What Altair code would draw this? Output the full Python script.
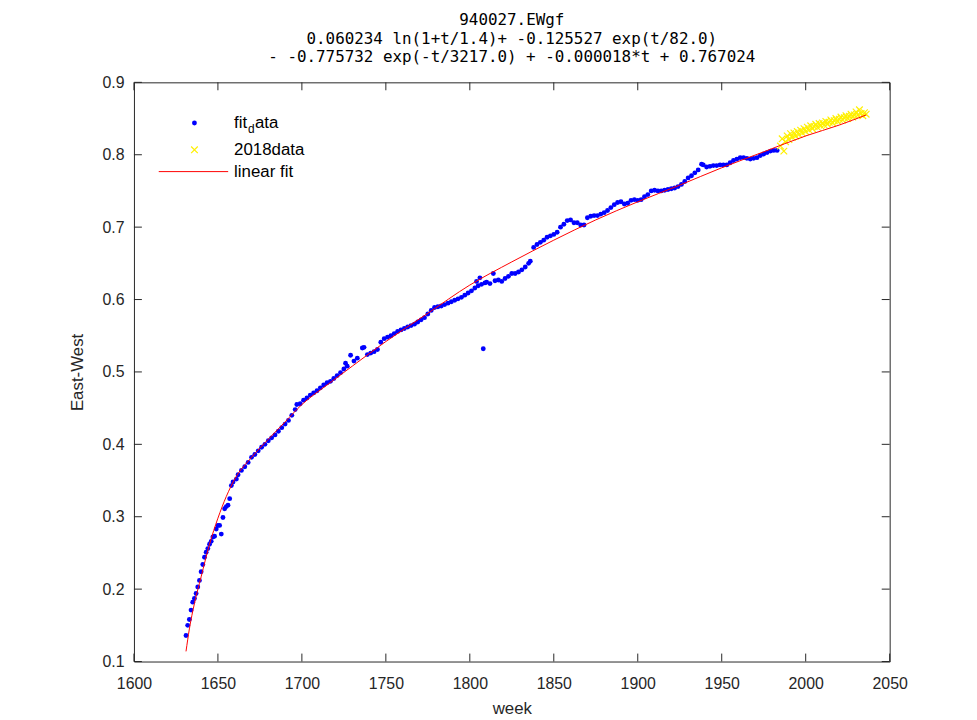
import altair as alt
import pandas as pd

# ---------------- data ----------------
blue_weeks = [1631, 1632, 1633, 1634, 1635, 1636, 1637, 1638, 1639, 1640, 1641, 1642, 1643, 1644,
              1645, 1646, 1647, 1648, 1649, 1650, 1651, 1652, 1653, 1654, 1655, 1656, 1657, 1658,
              1659, 1661, 1662, 1664, 1666, 1668, 1670, 1672, 1674, 1676, 1678, 1680, 1682, 1684,
              1686, 1688, 1690, 1692, 1694, 1696, 1697, 1699, 1701, 1703, 1705, 1707, 1709, 1711,
              1713, 1715, 1717, 1719, 1721, 1723, 1725, 1726, 1727, 1729, 1731, 1733, 1736, 1737,
              1739, 1741, 1743, 1745, 1747, 1749, 1751, 1753, 1755, 1757, 1759, 1761, 1763, 1765,
              1767, 1769, 1771, 1773, 1775, 1777, 1779, 1781, 1783, 1785, 1787, 1789, 1791, 1793,
              1795, 1797, 1799, 1801, 1803, 1804, 1805, 1806, 1807, 1808, 1809, 1810, 1812, 1814,
              1815, 1817, 1819, 1821, 1823, 1825, 1827, 1829, 1831, 1833, 1835, 1836, 1838, 1840,
              1842, 1844, 1846, 1848, 1850, 1852, 1854, 1856, 1858, 1860, 1862, 1864, 1866, 1868,
              1870, 1872, 1874, 1876, 1878, 1880, 1882, 1884, 1886, 1888, 1890, 1892, 1894, 1896,
              1898, 1900, 1902, 1904, 1906, 1908, 1910, 1912, 1914, 1916, 1918, 1920, 1922, 1924,
              1926, 1928, 1930, 1932, 1934, 1936, 1938, 1939, 1941, 1943, 1945, 1947, 1949, 1951,
              1953, 1955, 1957, 1959, 1961, 1963, 1965, 1967, 1969, 1971, 1973, 1975, 1977, 1979,
              1981, 1983]
blue_values = [0.136, 0.150, 0.158, 0.171, 0.182, 0.187, 0.194, 0.203, 0.212, 0.224, 0.234, 0.244, 0.251, 0.256,
               0.262, 0.266, 0.272, 0.273, 0.283, 0.288, 0.288, 0.276, 0.299, 0.311, 0.314, 0.316, 0.325, 0.343,
               0.348, 0.352, 0.358, 0.364, 0.369, 0.375, 0.382, 0.386, 0.391, 0.396, 0.400, 0.405, 0.409, 0.413,
               0.418, 0.423, 0.428, 0.433, 0.440, 0.448, 0.455, 0.456, 0.461, 0.464, 0.468, 0.471, 0.474, 0.478,
               0.482, 0.485, 0.487, 0.491, 0.495, 0.499, 0.504, 0.512, 0.508, 0.523, 0.515, 0.519, 0.533, 0.534,
               0.524, 0.526, 0.528, 0.531, 0.541, 0.546, 0.548, 0.550, 0.553, 0.556, 0.558, 0.560, 0.562, 0.564,
               0.566, 0.569, 0.572, 0.575, 0.580, 0.585, 0.589, 0.590, 0.591, 0.593, 0.595, 0.597, 0.599, 0.601,
               0.603, 0.606, 0.609, 0.612, 0.616, 0.625, 0.619, 0.630, 0.621, 0.532, 0.623, 0.624, 0.622, 0.636,
               0.626, 0.627, 0.625, 0.629, 0.632, 0.636, 0.636, 0.638, 0.641, 0.645, 0.650, 0.653, 0.672, 0.676,
               0.679, 0.682, 0.686, 0.688, 0.690, 0.693, 0.700, 0.704, 0.709, 0.710, 0.706, 0.706, 0.703, 0.703,
               0.713, 0.715, 0.716, 0.716, 0.718, 0.720, 0.723, 0.727, 0.731, 0.734, 0.735, 0.732, 0.733, 0.737,
               0.738, 0.737, 0.738, 0.742, 0.745, 0.750, 0.751, 0.750, 0.750, 0.751, 0.752, 0.753, 0.754, 0.756,
               0.759, 0.763, 0.768, 0.771, 0.775, 0.779, 0.787, 0.786, 0.783, 0.784, 0.785, 0.785, 0.786, 0.786,
               0.786, 0.789, 0.792, 0.794, 0.796, 0.796, 0.795, 0.794, 0.795, 0.796, 0.799, 0.801, 0.803, 0.805,
               0.806, 0.806]

yellow_weeks = list(range(1985, 2037))
yellow_values = [0.812, 0.822, 0.805, 0.818, 0.826, 0.821, 0.829, 0.824, 0.830, 0.826,
                 0.832, 0.828, 0.834, 0.830, 0.836, 0.832, 0.838, 0.834, 0.840, 0.836,
                 0.839, 0.842, 0.838, 0.843, 0.840, 0.844, 0.841, 0.846, 0.842, 0.845,
                 0.848, 0.844, 0.847, 0.850, 0.846, 0.849, 0.852, 0.848, 0.851, 0.854,
                 0.850, 0.853, 0.856, 0.852, 0.855, 0.859, 0.855, 0.862, 0.857, 0.854,
                 0.858, 0.856]

fit_weeks = [1631, 1633, 1636, 1640, 1645, 1650, 1655, 1660, 1670, 1680, 1690, 1700, 1715, 1730,
             1750, 1775, 1800, 1825, 1850, 1875, 1900, 1925, 1950, 1975, 2000, 2020, 2036]
fit_values = [0.114, 0.145, 0.180, 0.217, 0.262, 0.298, 0.328, 0.352, 0.382, 0.407, 0.431, 0.455, 0.482, 0.508,
              0.542, 0.581, 0.620, 0.652, 0.682, 0.710, 0.735, 0.758, 0.782, 0.804, 0.826, 0.841, 0.855]

x_ticks = [1600, 1650, 1700, 1750, 1800, 1850, 1900, 1950, 2000, 2050]
y_ticks = [0.1, 0.2, 0.3, 0.4, 0.5, 0.6, 0.7, 0.8, 0.9]

title_lines = ["940027.EWgf",
               "0.060234 ln(1+t/1.4)+ -0.125527 exp(t/82.0)",
               "- -0.775732 exp(-t/3217.0) + -0.000018*t + 0.767024"]

# ---------------- layout ----------------
W, H = 762, 584
TL = 8
FONT = "Liberation Sans"
TFONT = "DejaVu Sans Mono"
AX = "#262626"

blue_df = pd.DataFrame({"week": blue_weeks, "ew": blue_values})
yellow_df = pd.DataFrame({"week": yellow_weeks, "ew": yellow_values})
fit_df = pd.DataFrame({"week": fit_weeks, "ew": fit_values})
xt_df = pd.DataFrame({"week": x_ticks})
yt_df = pd.DataFrame({"ew": y_ticks})
one = pd.DataFrame({"a": [0]})

xs = alt.Scale(domain=[1600, 2050], nice=False, zero=False)
ys = alt.Scale(domain=[0.1, 0.9], nice=False, zero=False)

x_axis = alt.Axis(values=x_ticks, format="d", title="week", ticks=False, domain=False, grid=False,
                  labelFlush=False, labelOverlap=False,
                  labelFontSize=16, labelFont=FONT, labelColor=AX, labelPadding=14,
                  titleFontSize=17, titleFont=FONT, titleColor=AX, titleFontWeight="normal", titlePadding=9)
y_axis = alt.Axis(values=y_ticks, format=".1f", title="East-West", ticks=False, domain=False, grid=False,
                  labelFlush=False, labelOverlap=False,
                  labelFontSize=16, labelFont=FONT, labelColor=AX, labelPadding=10,
                  titleFontSize=17, titleFont=FONT, titleColor=AX, titleFontWeight="normal", titlePadding=16)

X = lambda: alt.X("week:Q", scale=xs)
Y = lambda: alt.Y("ew:Q", scale=ys)

blue = alt.Chart(blue_df).mark_circle(size=24, color="#0000FF", opacity=1).encode(
    x=alt.X("week:Q", scale=xs, axis=x_axis),
    y=alt.Y("ew:Q", scale=ys, axis=y_axis),
)

yellow = alt.Chart(yellow_df).mark_point(
    shape="M-1,-1L1,1M1,-1L-1,1", size=45, filled=False, strokeWidth=1.2, color="#FFF000", opacity=1
).encode(x=X(), y=Y())

fit = alt.Chart(fit_df).mark_line(color="#FF0000", strokeWidth=1, interpolate="monotone").encode(x=X(), y=Y())

# inward ticks on all four sides
tb = alt.Chart(xt_df).mark_rule(color=AX, strokeWidth=1).encode(x=X(), y=alt.value(H), y2=alt.value(H - TL))
tt = alt.Chart(xt_df).mark_rule(color=AX, strokeWidth=1).encode(x=X(), y=alt.value(0), y2=alt.value(TL))
tl = alt.Chart(yt_df).mark_rule(color=AX, strokeWidth=1).encode(y=Y(), x=alt.value(0), x2=alt.value(TL))
tr = alt.Chart(yt_df).mark_rule(color=AX, strokeWidth=1).encode(y=Y(), x=alt.value(W), x2=alt.value(W - TL))

# legend (drawn by hand, MATLAB style, with the subscript d)
LX_SYM, LX_TXT = 61, 101
LY1, LY2, LY3 = 41, 68, 90
leg_dot = alt.Chart(one).mark_circle(size=24, color="#0000FF", opacity=1).encode(
    x=alt.value(LX_SYM), y=alt.value(LY1))
leg_x = alt.Chart(one).mark_point(shape="M-1,-1L1,1M1,-1L-1,1", size=45, filled=False,
                                  strokeWidth=1.2, color="#FFF000", opacity=1).encode(
    x=alt.value(LX_SYM), y=alt.value(LY2))
leg_line = alt.Chart(one).mark_rule(color="#FF0000", strokeWidth=1).encode(
    x=alt.value(25), x2=alt.value(95), y=alt.value(LY3))
txt_kw = dict(align="left", baseline="middle", font=FONT, color="#000000")
leg_t1 = alt.Chart(one).mark_text(text="fit", fontSize=17, **txt_kw).encode(
    x=alt.value(LX_TXT), y=alt.value(LY1))
leg_t1d = alt.Chart(one).mark_text(text="d", fontSize=12, **txt_kw).encode(
    x=alt.value(LX_TXT + 14), y=alt.value(LY1 + 6))
leg_t1b = alt.Chart(one).mark_text(text="ata", fontSize=17, **txt_kw).encode(
    x=alt.value(LX_TXT + 21), y=alt.value(LY1))
leg_t2 = alt.Chart(one).mark_text(text="2018data", fontSize=17, **txt_kw).encode(
    x=alt.value(LX_TXT), y=alt.value(LY2))
leg_t3 = alt.Chart(one).mark_text(text="linear fit", fontSize=17, **txt_kw).encode(
    x=alt.value(LX_TXT), y=alt.value(LY3))

chart = alt.layer(
    blue, yellow, fit, tb, tt, tl, tr,
    leg_dot, leg_x, leg_line, leg_t1, leg_t1d, leg_t1b, leg_t2, leg_t3,
).properties(
    width=W, height=H,
    title=alt.TitleParams(text=title_lines, anchor="middle", fontSize=16, font=TFONT,
                          fontWeight="normal", color="#000000", lineHeight=19, offset=9),
    autosize=alt.AutoSizeParams(type="none"),
    padding={"left": 127, "top": 72, "right": 80, "bottom": 56},
    background="white",
).configure_view(stroke=AX, strokeWidth=1)

chart.save("out.html", embed_options={"renderer": "svg", "actions": False})
